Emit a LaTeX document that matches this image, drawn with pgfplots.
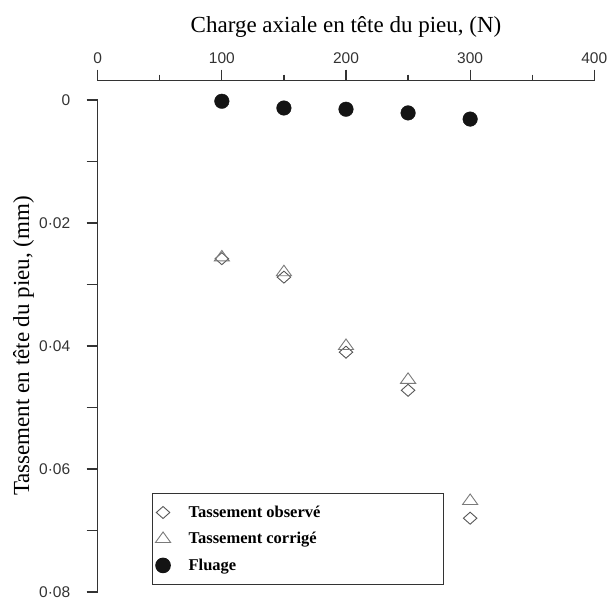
\documentclass[border=0pt]{standalone}
\usepackage{fontspec}
\setmainfont{Liberation Serif}
\newfontfamily\arialfont{Liberation Sans}
\usepackage{pgfplots}
\pgfplotsset{compat=1.18}
\definecolor{axisgray}{HTML}{333333}
\definecolor{markgray}{HTML}{555555}
\definecolor{trigray}{HTML}{7a7a7a}
\definecolor{dotblack}{HTML}{141414}

\begin{document}
\begin{tikzpicture}
\useasboundingbox (0pt,0pt) rectangle (608pt,-603pt);
\begin{axis}[
  scale only axis,
  width=496.6pt, height=492pt,
  at={(97.7pt,-100pt)}, anchor=north west,
  xmin=0, xmax=400, ymin=0, ymax=0.08,
  y dir=reverse,
  clip=false,
  axis x line*=top, axis y line*=left,
  axis x line shift=19.3pt,
  axis line style={axisgray, line width=1.2pt},
  tick style={axisgray, line width=1.2pt},
  tick align=outside,
  major tick length=11pt, minor tick length=6pt,
  xtick={0,100,200,300,400},
  xticklabels={0,100,200,300,400},
  minor x tick num=1,
  ytick={0,0.02,0.04,0.06,0.08},
  yticklabels={0,0·02,0·04,0·06,0·08},
  scaled y ticks=false,
  extra y ticks={0.01,0.03,0.05,0.07},
  extra y tick labels={},
  tick label style={font=\arialfont\fontsize{15.5}{17}\selectfont, text=axisgray},
  yticklabel style={xshift=-13pt},
  xticklabel style={yshift=3pt},
  xlabel={Charge axiale en tête du pieu, (N)},
  ylabel={Tassement en tête du pieu, (mm)},
  label style={font=\fontsize{23}{26}\selectfont},
  xlabel style={at={(axis description cs:0.5,1.1368)}, anchor=base},
  ylabel style={at={(axis description cs:-0.1383,0.5)}, anchor=base, rotate=0},
  legend style={at={(axis description cs:0.1093,0.2012)}, anchor=north west,
    draw=axisgray, line width=1pt, font=\bfseries\fontsize{16.5}{19}\selectfont,
    column sep=16pt, row sep=9.5pt, inner ysep=10.5pt},
  legend cell align=left,
  legend image code/.code={\draw[mark repeat=2,mark phase=2,#1] plot coordinates {(0pt,0pt) (5pt,0pt) (10pt,0pt)};},
]
% Tassement observe
\addplot[only marks, mark=diamond, mark size=6pt,
  mark options={markgray, line width=0.9pt, xscale=1.5, fill=white}] coordinates {
  (100,0.0258) (150,0.0288) (200,0.0410) (250,0.0472) (300,0.0680)
};
\addlegendentry{\makebox[250pt][l]{Tassement observé}}

% Tassement corrige
\addplot[only marks, mark=triangle, mark size=7pt,
  mark options={trigray, line width=0.9pt, xscale=1.25}] coordinates {
  (100,0.0256) (150,0.0280) (200,0.0400) (250,0.0455) (300,0.0652)
};
\addlegendentry{\makebox[250pt][l]{Tassement corrigé}}

% Fluage
\addplot[only marks, mark=*, mark size=7.3pt,
  mark options={dotblack, fill=dotblack}] coordinates {
  (100,0.0002) (150,0.0013) (200,0.0015) (250,0.0021) (300,0.0031)
};
\addlegendentry{\makebox[250pt][l]{Fluage}}
\end{axis}
\end{tikzpicture}
\end{document}
